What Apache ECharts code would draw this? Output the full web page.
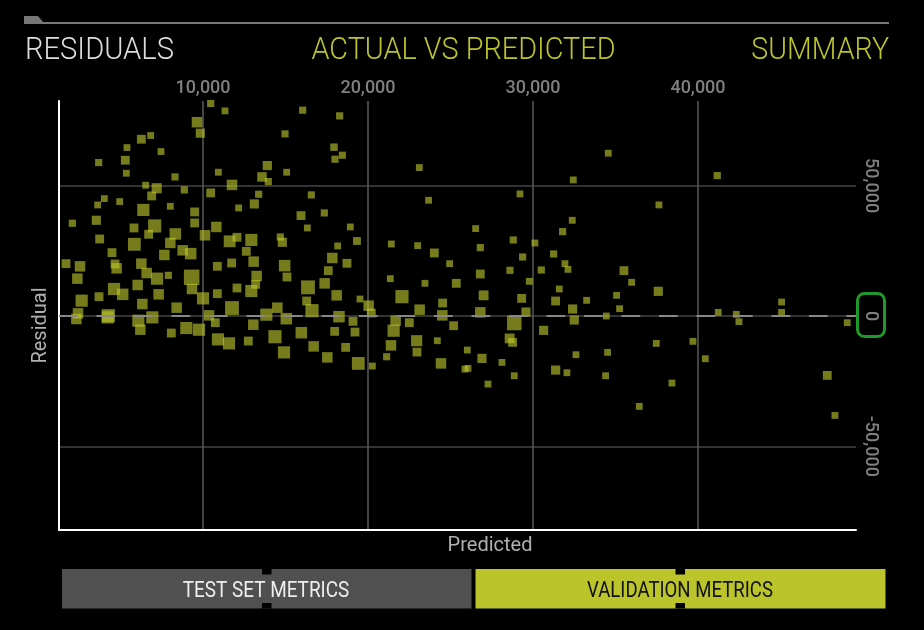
<!DOCTYPE html>
<html><head><meta charset="utf-8">
<style>html,body{margin:0;padding:0;background:#000}#c{width:924px;height:630px}</style>
<script src="https://cdn.jsdelivr.net/npm/echarts@6/dist/echarts.min.js"></script>
</head><body><div id="c"></div>
<script>
const predicted=[10465,11333,16040,18282,9636,9838,14969,6263,6829,5394,17939,7455,5293,3677,18444,17999,13899,23110,5354,8303,10929,15070,13575,13959,6526,7192,11757,8869,10465,6889,13373,16565,4021,3617,4950,23675,8020,12161,13111,6384,9495,17353,15939,2082,3536,9495,5819,7071,10808,16323,18928,6707,8323,10121,3738,12060,14686,11616,12929,14808,19332,8020,5839,21413,23009,18161,4485,8768,9253,12626,7657,24019,17838,1698,4667,2546,4768,6263,13070,11737,10869,14949,18726,24948,17595,6586,7899,2385,7212,9313,13252,15090,21352,6041,4607,12060,13192,16363,17373,23453,25352,9333,12929,5132,7313,3698,10869,18100,2647,10000,22059,16282,19514,6324,11757,8404,14505,20039,24524,16605,23130,2425,
2324,4263,4223,6081,6930,6202,10364,10747,8081,8990,9758,10909,11576,13050,12747,13838,15050,15959,14363,14909,16706,17979,17535,18242,19090,19211,18646,19413,20262,20201,21676,22504,21554,21393,21130,22948,22968,24201,24423,24504,25190,
34563,41168,32442,29210,37633,32381,26523,31795,28806,30119,26806,31250,29371,31937,32119,28604,30503,26806,35512,35977,29775,31593,27008,29311,35068,37593,31371,33250,45067,32401,35250,26806,29573,41229,45067,42320,34442,
28866,32502,42481,49046,30644,28584,28765,37472,39694,26018,32603,34522,26907,28119,40441,25877,26059,31371,32058,28866,34401,27271,38421,47834,36441,48299];
const residual=[81536,78720,78976,76800,74368,70144,69888,67840,69248,64640,64768,63104,59776,58880,61696,60160,57728,56960,54784,53376,55168,55168,53376,51584,50176,49024,50304,48384,47232,46080,46720,46464,45056,42624,43904,44416,42112,41472,43008,40704,39936,39552,38528,35584,36736,35712,33792,34560,34176,33792,34176,31360,31488,30976,29568,30208,30336,28672,29184,28288,28800,28032,27520,27648,27008,26880,24320,25216,23936,24832,23424,24192,22272,20096,19968,19072,18304,20096,20864,20352,19072,19328,20224,20096,17408,16512,15616,14336,14336,14848,15360,14976,14336,11904,10368,10752,12160,11008,12544,12544,12544,10368,9600,8320,8320,7424,8576,7936,5888,6784,7424,5760,6528,4608,3072,3200,3200,3968,4992,2048,2432,1024,
-1152,128,-512,-1792,-512,-5248,256,-2560,-6528,-4608,-5248,-8960,-10496,-3328,-9600,512,-1024,-6400,-7936,-13952,-11648,-5888,-15872,-256,-2048,-6144,-12032,-18176,-19200,1152,-1792,-2560,-5632,-11264,-15616,-9472,-13824,-9472,-18176,256,-3712,
62464,53888,52224,46848,42624,36736,33536,32384,29184,28032,26240,23808,22656,20096,17920,17536,17664,16128,17408,12928,13312,10368,7936,6784,7936,9472,5760,6016,5376,2688,2816,1408,1536,1408,1408,640,0,
-2688,-1536,-2176,-2560,-5504,-8576,-10112,-10496,-9728,-13056,-14848,-13952,-16256,-17792,-16384,-20352,-20096,-20736,-21760,-22912,-22912,-26112,-25728,-22784,-34688,-38144];
const weight=[20,19,20,20,30,26,20,25,19,19,21,19,25,20,20,20,26,19,19,20,19,19,27,20,19,29,30,20,25,25,20,20,19,19,19,19,19,19,26,35,25,20,25,20,26,25,25,38,30,19,19,25,33,30,25,25,20,34,35,26,22,30,37,19,19,19,25,30,33,25,30,25,30,25,25,30,30,30,30,25,25,33,25,19,25,30,20,30,35,45,30,25,19,30,35,25,25,40,30,19,25,30,35,33,30,25,25,30,35,35,38,25,19,30,40,30,30,30,25,38,30,30,
30,38,35,35,35,30,30,25,25,35,35,35,35,30,25,35,33,33,38,35,30,25,30,33,25,25,25,37,19,25,30,25,35,30,20,32,25,19,30,30,25,
19,20,19,19,19,19,19,20,20,19,20,20,20,19,19,20,20,25,25,19,19,19,28,25,19,26,25,19,19,26,19,30,26,19,19,19,19,
42,26,19,19,26,28,25,19,19,19,19,19,26,19,19,19,19,26,19,19,19,19,19,25,19,19];
const xTicks=[10000,20000,30000,40000];
const yTicks=[-50000,0,50000];
const points=predicted.map((p,i)=>[p,residual[i],weight[i]]);
const fmt=v=>Number(v).toLocaleString('en-US');
const label='Roboto, sans-serif';
const txt=(text,x,y,size,fill,scaleX,align,weight)=>({type:'text',x,y,scaleX,z:20,style:{text,fill,font:`${weight||300} ${size}px Roboto, sans-serif`,textAlign:align,textVerticalAlign:'middle'}});
const rect=(x,y,w,h,fill)=>({type:'rect',shape:{x,y,width:w,height:h},style:{fill},z:10});
const chart=echarts.init(document.getElementById('c'));
chart.setOption({
 backgroundColor:'#000',animation:false,
 grid:{left:59,right:68,top:101,bottom:100},
 xAxis:[
  {type:'value',position:'top',min:1273,max:49576,
   axisLine:{show:false},axisTick:{show:false,customValues:xTicks},
   axisLabel:{customValues:xTicks,formatter:fmt,color:'#808080',fontFamily:label,fontSize:18,fontWeight:500,margin:4},
   splitLine:{show:true,lineStyle:{color:'#5a5a5a',width:1.5}}},
  {type:'value',position:'bottom',min:1273,max:49576,
   axisLine:{show:true,onZero:false,lineStyle:{color:'#fff',width:2}},axisTick:{show:false},axisLabel:{show:false},splitLine:{show:false},
   name:'Predicted',nameLocation:'middle',nameGap:6,
   nameTextStyle:{color:'#b0b0b0',fontFamily:label,fontSize:20,fontWeight:400,padding:[0,0,0,65]}}
 ],
 yAxis:[
  {type:'value',position:'right',min:-82100,max:82500,
   axisLine:{show:false},axisTick:{show:false,customValues:yTicks},
   axisLabel:{customValues:yTicks,formatter:fmt,rotate:-90,color:'#808080',fontFamily:label,fontSize:18,fontWeight:500,margin:5},
   splitLine:{show:true,lineStyle:{color:'#444',width:1.5}}},
  {type:'value',position:'left',min:-82100,max:82500,
   axisLine:{show:true,onZero:false,lineStyle:{color:'#fff',width:2}},axisTick:{show:false},axisLabel:{show:false},splitLine:{show:false},
   name:'Residual',nameLocation:'middle',nameGap:8,
   nameTextStyle:{color:'#b0b0b0',fontFamily:label,fontSize:20,fontWeight:400,padding:[0,0,0,-20]}}
 ],
 series:[{type:'scatter',xAxisIndex:0,yAxisIndex:0,data:points,symbol:'rect',
  symbolSize:d=>d[2]/3+0.5,itemStyle:{color:'#bfc72c',opacity:0.62},
  markLine:{silent:true,symbol:'none',label:{show:false},data:[{yAxis:0}],
   lineStyle:{color:'#888',width:2,type:[18.7,18.8]}}}],
 graphic:[
  {type:'polygon',shape:{points:[[24,16],[38,16],[43,22],[24,24]]},style:{fill:'#777'},z:10},
  rect(24,22,865,2,'#777'),
  txt('RESIDUALS',25,51,31,'#ddd',0.94,'left'),
  txt('ACTUAL VS PREDICTED',463.5,51,31,'#bcc42c',0.93,'center'),
  txt('SUMMARY',889,51,31,'#bcc42c',0.92,'right'),
  {type:'rect',shape:{x:857.5,y:293.5,width:27,height:43,r:7},style:{fill:'none',stroke:'#1f9a2a',lineWidth:3},z:10},
  rect(62,569,409.5,39.5,'#505050'),
  rect(475.5,569,410,39.5,'#bcc42c'),
  rect(262,569,9.5,5.5,'#000'),rect(262,603,9.5,5.5,'#000'),
  rect(675.5,569,9.5,5.5,'#000'),rect(675.5,603,9.5,5.5,'#000'),
  txt('TEST SET METRICS',266,591,22,'#eee',0.86,'center',400),
  txt('VALIDATION METRICS',680,591,22,'#111',0.845,'center',400)
 ]
});
</script></body></html>
